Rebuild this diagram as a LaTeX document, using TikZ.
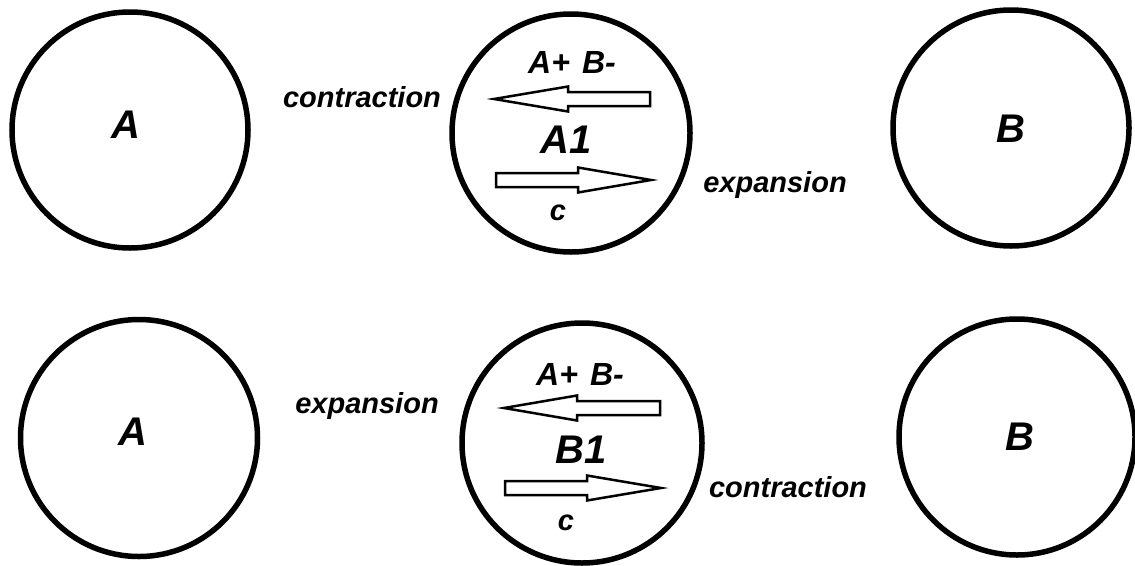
\documentclass[tikz,border=0pt]{standalone}
\usepackage{fontspec}
\setmainfont{Liberation Sans}
\newcommand\hollowarrow[4]{% tail x, head base x, tip x, y
  \draw[harrow] (#1,#4-7) -- (#2,#4-7) -- (#2,#4-12.5) -- (#3,#4) -- (#2,#4+12.5) -- (#2,#4+7) -- (#1,#4+7) -- cycle;}
\begin{document}
\begin{tikzpicture}[x=1pt,y=-1pt,
  ball/.style={circle, draw, line width=5.5pt, inner sep=0pt, minimum size=236pt},
  lab/.style={font=\fontsize{29}{29}\selectfont\bfseries\itshape, anchor=base, inner sep=0pt},
  pm/.style={font=\fontsize{32}{32}\selectfont\bfseries\itshape, anchor=base, inner sep=0pt},
  big/.style={font=\fontsize{40}{40}\selectfont\bfseries\itshape, anchor=base, inner sep=0pt},
  mid/.style={font=\fontsize{40}{40}\selectfont\bfseries\itshape, anchor=base, inner sep=0pt},
  harrow/.style={draw, line width=2.5pt, fill=white, line join=miter}]
\useasboundingbox (0,0) rectangle (1135,565);
% top row
\node[ball] (tA) at (130,130) {};
\node[ball, minimum size=238pt] (tM) at (571,133) {};
\node[ball] (tB) at (1011,128) {};
\node[big] (tAl) at (126,138) {A};
\node[big] (tBl) at (1011,142) {B};
\node[pm] (tAB) at (572,73) {A+\hspace{12pt}B-};
\node[mid] (tA1) at (566,153) {A1};
\node[lab] (tc) at (558,220) {c};
\node[lab] (tcon) at (362,107) {contraction};
\node[lab] (texp) at (775,192) {expansion};
\hollowarrow{650}{568}{494}{99}
\hollowarrow{496}{578}{651}{180}
% bottom row
\node[ball, minimum size=237pt] (bA) at (139,438) {};
\node[ball, minimum size=240pt] (bM) at (582,443) {};
\node[ball] (bB) at (1017,437) {};
\node[big] (bAl) at (133,445) {A};
\node[big] (bBl) at (1020,450) {B};
\node[pm] (bAB) at (580,385) {A+\hspace{12pt}B-};
\node[mid] (bB1) at (581,463) {B1};
\node[lab] (bc) at (566,530) {c};
\node[lab] (bexp) at (367,413) {expansion};
\node[lab] (bcon) at (788,497) {contraction};
\hollowarrow{660}{577}{504}{408}
\hollowarrow{505}{587}{661}{488}
\end{tikzpicture}
\end{document}
